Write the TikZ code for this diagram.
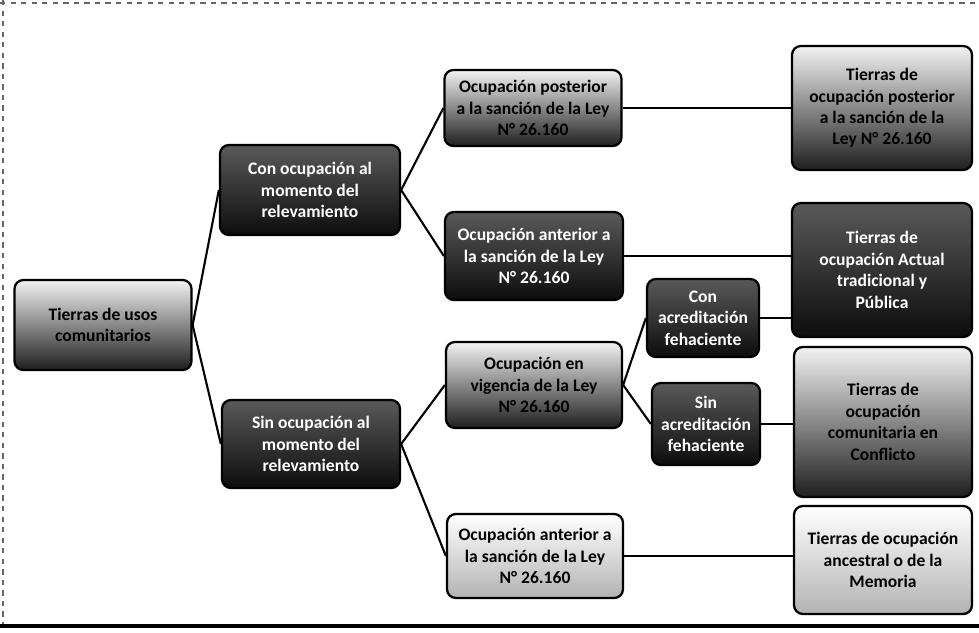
\documentclass[tikz,border=0pt]{standalone}
\usepackage{fontspec}
\setmainfont{Carlito}
\begin{document}
\begin{tikzpicture}[x=0.02cm,y=-0.02cm,
  box/.style={draw=black, line width=1.3pt, rounded corners=5pt, align=center,
    font=\bfseries\fontsize{10}{12.2}\selectfont, inner sep=2pt},
  darkbox/.style={box, top color=black!65, bottom color=black!95, text=white},
  lightbox/.style={box, top color=white, bottom color=black!30, text=black},
  gradbox/.style={box, top color=black!5, middle color=black!35, bottom color=black!88, text=black},
  link/.style={draw=black, line width=1.2pt},
  frameline/.style={draw=black!60, dashed, line width=0.8pt}]
\useasboundingbox (0,0) rectangle (979,632);
% page frame
\draw[frameline] (0,3) -- (979,3);
\draw[frameline] (3,0) -- (3,626);
\draw[line width=2pt] (0,626) -- (979,626);
% level 0
\node[gradbox, minimum width=3.54cm, minimum height=1.80cm] (root) at (103,325) {Tierras de usos\\comunitarios};
% level 1
\node[darkbox, minimum width=3.60cm, minimum height=1.80cm] (con) at (310,190) {Con ocupación al\\momento del\\relevamiento};
\node[darkbox, minimum width=3.56cm, minimum height=1.76cm] (sin) at (311,444) {Sin ocupación al\\momento del\\relevamiento};
% level 2
\node[gradbox, minimum width=3.54cm, minimum height=1.52cm] (post) at (533,108) {Ocupación posterior\\a la sanción de la Ley\\N° 26.160};
\node[darkbox, minimum width=3.56cm, minimum height=1.76cm] (antT) at (534,256) {Ocupación anterior a\\la sanción de la Ley\\N° 26.160};
\node[gradbox, minimum width=3.52cm, minimum height=1.72cm] (vig) at (534,385) {Ocupación en\\vigencia de la Ley\\N° 26.160};
\node[lightbox, minimum width=3.52cm, minimum height=1.68cm] (antB) at (535,556) {Ocupación anterior a\\la sanción de la Ley\\N° 26.160};
% level 3
\node[darkbox, minimum width=2.24cm, minimum height=1.56cm] (cacr) at (703,318) {Con\\acreditación\\fehaciente};
\node[darkbox, minimum width=2.16cm, minimum height=1.64cm] (sacr) at (706,424) {Sin\\acreditación\\fehaciente};
% results
\node[gradbox, minimum width=3.60cm, minimum height=2.48cm] (t1) at (882,108) {Tierras de\\ocupación posterior\\a la sanción de la\\Ley N° 26.160};
\node[darkbox, minimum width=3.60cm, minimum height=2.68cm] (t2) at (882,270) {Tierras de\\ocupación Actual\\tradicional y\\Pública};
\node[gradbox, minimum width=3.56cm, minimum height=3.00cm] (t3) at (883,422) {Tierras de\\ocupación\\comunitaria en\\Conflicto};
\node[lightbox, minimum width=3.56cm, minimum height=2.16cm] (t4) at (883,560) {Tierras de ocupación\\ancestral o de la\\Memoria};
% connectors
\draw[link] (root.east) -- (con.west);
\draw[link] (root.east) -- (sin.west);
\draw[link] (con.east) -- (post.west);
\draw[link] (con.east) -- (antT.west);
\draw[link] (sin.east) -- (vig.west);
\draw[link] (sin.east) -- (antB.west);
\draw[link] (vig.east) -- (cacr.west);
\draw[link] (vig.east) -- (sacr.west);
\draw[link] (post.east) -- (post.east -| t1.west);
\draw[link] (antT.east) -- (antT.east -| t2.west);
\draw[link] (cacr.east) -- (cacr.east -| t2.west);
\draw[link] (sacr.east) -- (sacr.east -| t3.west);
\draw[link] (antB.east) -- (antB.east -| t4.west);
\end{tikzpicture}
\end{document}
